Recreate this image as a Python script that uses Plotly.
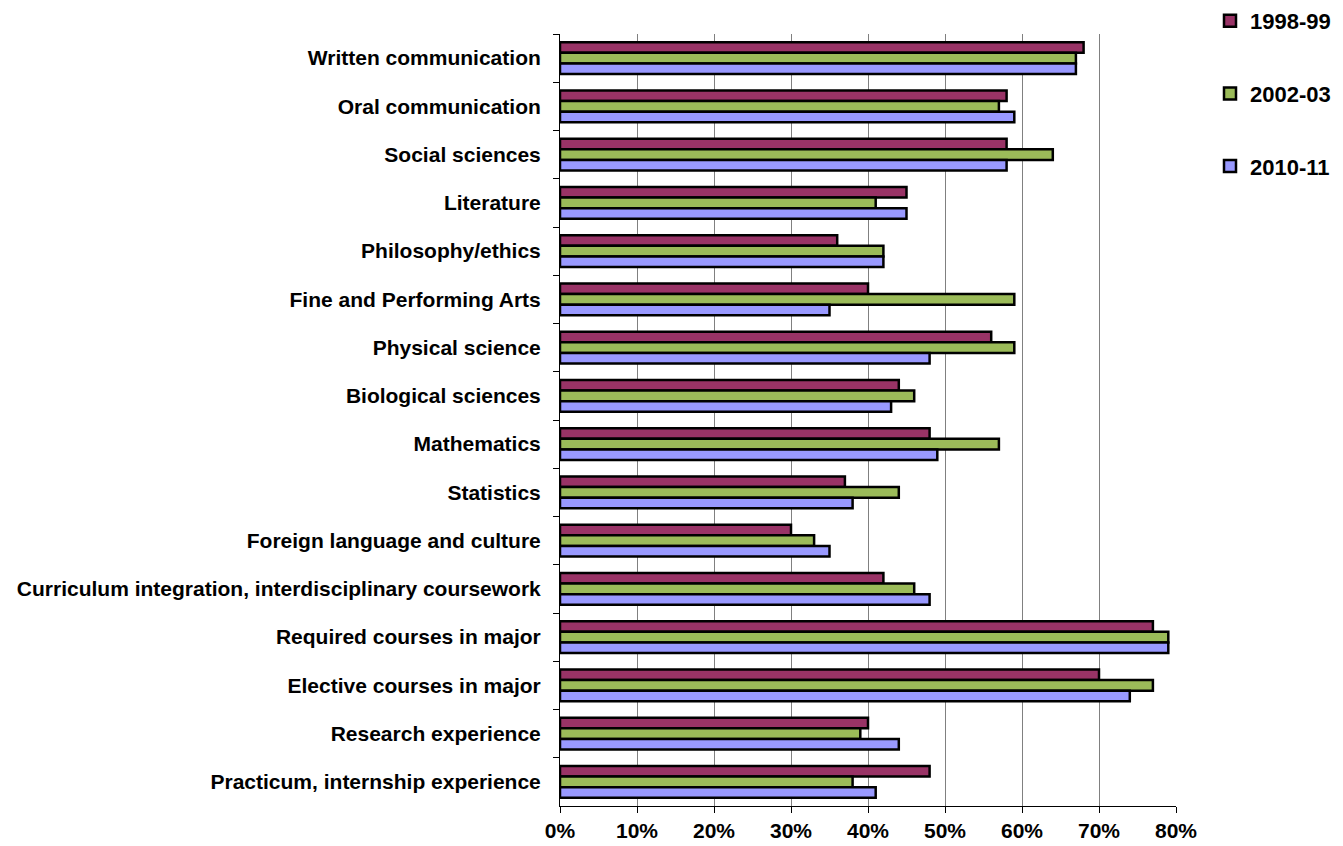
import plotly.graph_objects as go

categories = [
    "Written communication",
    "Oral communication",
    "Social sciences",
    "Literature",
    "Philosophy/ethics",
    "Fine and Performing Arts",
    "Physical science",
    "Biological sciences",
    "Mathematics",
    "Statistics",
    "Foreign language and culture",
    "Curriculum integration, interdisciplinary coursework",
    "Required courses in major",
    "Elective courses in major",
    "Research experience",
    "Practicum, internship experience",
]

y1998_99 = [68, 58, 58, 45, 36, 40, 56, 44, 48, 37, 30, 42, 77, 70, 40, 48]
y2002_03 = [67, 57, 64, 41, 42, 59, 59, 46, 57, 44, 33, 46, 79, 77, 39, 38]
y2010_11 = [67, 59, 58, 45, 42, 35, 48, 43, 49, 38, 35, 48, 79, 74, 44, 41]

series = [
    ("1998-99", y1998_99, "#993366"),
    ("2002-03", y2002_03, "#9BBB59"),
    ("2010-11", y2010_11, "#9999FF"),
]

FONT = "Liberation Sans, Arial, sans-serif"

fig = go.Figure()
for name, vals, color in series:
    fig.add_trace(go.Bar(
        y=categories,
        x=vals,
        name=name,
        orientation="h",
        legendgroup=name,
        marker=dict(color=color, line=dict(color="#000000", width=2.5)),
    ))

fig.update_layout(
    width=1343,
    height=846,
    margin=dict(l=560, r=167, t=34, b=40, autoexpand=False),
    paper_bgcolor="white",
    plot_bgcolor="white",
    barmode="group",
    bargap=0.34,
    bargroupgap=0,
    font=dict(family=FONT, size=21, color="#000000"),
    legend=dict(
        xref="container",
        yref="container",
        x=1210 / 1343,
        y=1 + 9 / 846,
        xanchor="left",
        yanchor="top",
        traceorder="grouped",
        tracegroupgap=41,
        font=dict(family=FONT, size=22, color="#000000", weight="bold"),
        itemwidth=30,
        bgcolor="rgba(0,0,0,0)",
    ),
    showlegend=True,
)

fig.update_xaxes(
    range=[0, 80],
    dtick=10,
    tick0=0,
    ticksuffix="%",
    showgrid=True,
    gridcolor="#808080",
    gridwidth=1,
    showline=True,
    linecolor="#000000",
    linewidth=1,
    ticks="outside",
    ticklen=6,
    tickcolor="#000000",
    tickfont=dict(family=FONT, size=21, weight="bold"),
    zeroline=False,
    fixedrange=True,
)

fig.update_yaxes(
    autorange="reversed",
    showline=True,
    linecolor="#000000",
    linewidth=1,
    ticks="outside",
    tickson="boundaries",
    ticklen=6,
    tickcolor="#000000",
    showgrid=False,
    tickfont=dict(family=FONT, size=21, weight="bold"),
    ticklabelstandoff=14,
    fixedrange=True,
)

fig.write_html("out.html")
